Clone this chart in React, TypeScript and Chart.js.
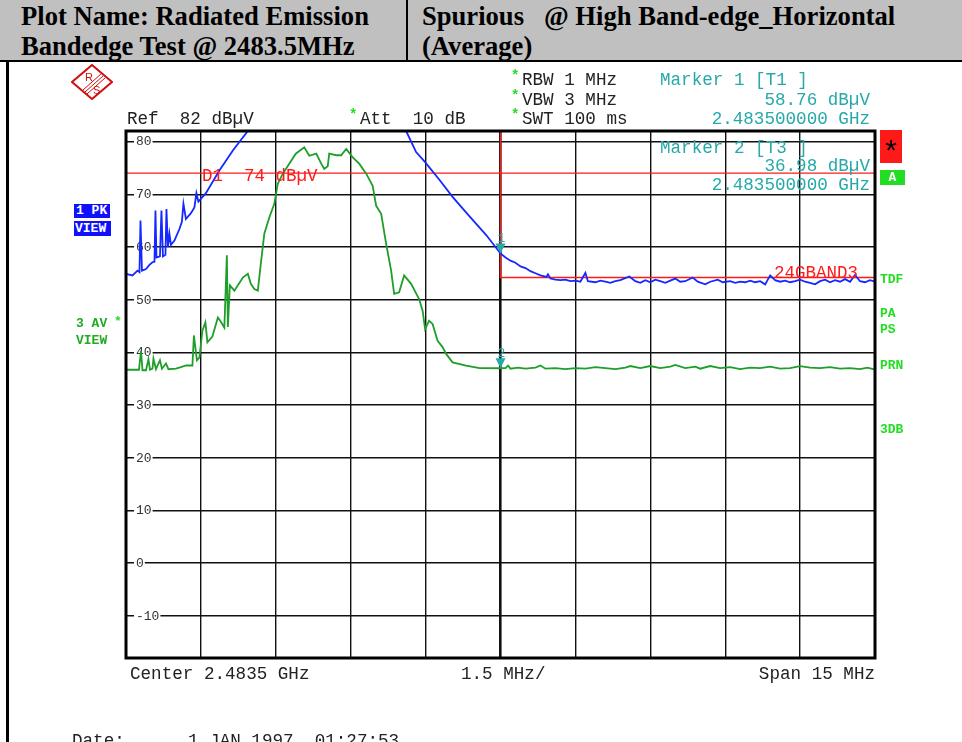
import React, { useEffect, useRef } from "react";
import { Chart, registerables } from "chart.js";

Chart.register(...registerables);

// ---- axis set-up (frequency offset in MHz from the start of the span) ----
const centerFreqGHz = 2.4835;
const spanMHz = 15;
const xGridMHz = [0, 1.5, 3, 4.5, 6, 7.5, 9, 10.5, 12, 13.5, 15];
const yGridDb = [-10, 0, 10, 20, 30, 40, 50, 60, 70, 80];
const refLevelDb = 82;
const bottomLevelDb = -18;

// ---- trace 1 : PK / VIEW (blue) [MHz offset, dBuV] ----
const pkTrace: [number, number][] = [
  [0.0, 54.9], [0.13, 54.6], [0.23, 55.5], [0.27, 55.2], [0.29, 65.0], [0.32, 55.5],
  [0.4, 55.8], [0.47, 56.6], [0.53, 57.1], [0.57, 57.2], [0.59, 66.9], [0.61, 58.0],
  [0.68, 58.2], [0.71, 66.9], [0.74, 58.2], [0.79, 58.5], [0.81, 67.2], [0.84, 60.0],
  [0.87, 62.5], [0.9, 60.4], [0.97, 61.2], [1.07, 63.4], [1.12, 64.8], [1.15, 68.2],
  [1.2, 65.3], [1.3, 66.4], [1.37, 67.5], [1.41, 70.2], [1.45, 68.6], [1.6, 70.2],
  [1.87, 74.5], [2.14, 78.3], [2.44, 82], [5.61, 82], [5.81, 78.0], [5.99, 76.1],
  [6.28, 72.7], [6.54, 69.5], [6.88, 65.8], [7.21, 62.3], [7.5, 58.76], [7.6, 58.0],
  [7.7, 57.4], [7.8, 57.0], [7.9, 56.3], [8.0, 56.0], [8.1, 55.4], [8.2, 55.0],
  [8.3, 54.6], [8.42, 54.3], [8.45, 54.8], [8.5, 54.0], [8.6, 53.8], [8.7, 53.7],
  [8.8, 53.8], [8.9, 53.5], [9.0, 53.6], [9.1, 53.4], [9.2, 55.1], [9.25, 53.5],
  [9.4, 53.3], [9.5, 53.6], [9.6, 53.4], [9.7, 53.2], [9.8, 53.5], [9.9, 53.7],
  [10.08, 54.4], [10.2, 53.5], [10.3, 53.2], [10.4, 53.7], [10.5, 53.3], [10.6, 53.8],
  [10.7, 53.5], [10.8, 53.2], [10.9, 53.6], [11.0, 54.0], [11.1, 53.4], [11.2, 53.5],
  [11.35, 54.2], [11.45, 53.4], [11.6, 52.9], [11.7, 53.4], [11.85, 53.8], [11.95, 53.3],
  [12.1, 53.5], [12.2, 53.2], [12.3, 53.4], [12.4, 53.3], [12.5, 53.6], [12.6, 53.3],
  [12.7, 53.5], [12.8, 52.9], [12.9, 54.6], [13.0, 53.7], [13.1, 53.4], [13.2, 53.6],
  [13.3, 53.3], [13.4, 53.5], [13.5, 53.8], [13.6, 53.4], [13.7, 53.2], [13.8, 52.9],
  [13.9, 53.5], [14.0, 53.8], [14.1, 53.3], [14.2, 53.7], [14.3, 53.4], [14.4, 53.9],
  [14.5, 53.4], [14.6, 54.7], [14.7, 53.5], [14.8, 53.3], [14.9, 53.7], [15.0, 53.4],
];

// ---- trace 3 : AV / VIEW (green) [MHz offset, dBuV] ----
const avTrace: [number, number][] = [
  [0.0, 36.7], [0.26, 36.7], [0.3, 40.3], [0.33, 36.6], [0.4, 36.6], [0.45, 38.7],
  [0.48, 36.7], [0.53, 36.9], [0.55, 38.8], [0.6, 36.8], [0.68, 38.5], [0.72, 36.9],
  [0.8, 37.9], [0.85, 36.8], [1.0, 36.9], [1.1, 37.2], [1.2, 37.5], [1.33, 37.5],
  [1.36, 43.2], [1.42, 38.5], [1.47, 39.0], [1.53, 44.1], [1.59, 45.7], [1.63, 41.9],
  [1.73, 43.0], [1.84, 46.6], [1.9, 45.8], [1.97, 44.7], [2.02, 58.4], [2.04, 44.8],
  [2.08, 52.7], [2.17, 51.7], [2.34, 54.2], [2.44, 54.9], [2.5, 53.0], [2.57, 52.0],
  [2.64, 51.7], [2.7, 56.8], [2.77, 62.5], [2.87, 65.6], [2.97, 68.2], [3.04, 72.0],
  [3.14, 73.9], [3.27, 75.8], [3.4, 77.7], [3.57, 78.9], [3.67, 77.3], [3.81, 77.7],
  [3.91, 75.8], [3.97, 74.8], [4.04, 75.3], [4.07, 77.7], [4.21, 77.4], [4.31, 77.4],
  [4.41, 78.6], [4.54, 77.0], [4.67, 75.8], [4.81, 73.9], [4.94, 71.6], [5.01, 67.8],
  [5.11, 66.3], [5.21, 60.6], [5.31, 55.5], [5.37, 51.1], [5.47, 51.4], [5.57, 54.6],
  [5.71, 53.0], [5.87, 50.1], [5.94, 47.9], [5.99, 44.4], [6.07, 46.0], [6.14, 45.4],
  [6.24, 42.2], [6.34, 41.0], [6.41, 39.7], [6.54, 38.1], [6.81, 37.5], [7.08, 37.0],
  [7.5, 36.98], [7.6, 37.0], [7.65, 37.5], [7.7, 36.9], [7.85, 37.1], [8.0, 36.9],
  [8.2, 37.1], [8.3, 37.5], [8.4, 36.9], [8.6, 37.0], [8.8, 36.8], [9.0, 37.0],
  [9.2, 36.9], [9.4, 37.2], [9.6, 37.0], [9.8, 36.8], [10.0, 37.1], [10.1, 37.4],
  [10.3, 37.0], [10.5, 37.4], [10.7, 37.0], [10.9, 37.3], [11.0, 37.6], [11.2, 37.0],
  [11.4, 37.3], [11.5, 36.9], [11.7, 37.4], [11.9, 37.0], [12.1, 37.2], [12.3, 36.8],
  [12.5, 37.1], [12.7, 37.0], [12.9, 37.3], [13.1, 36.9], [13.3, 37.0], [13.5, 37.4],
  [13.7, 37.1], [13.9, 37.0], [14.1, 37.2], [14.3, 36.9], [14.5, 37.0], [14.7, 36.8],
  [14.85, 37.1], [15.0, 36.7],
];

// ---- limit / display lines ----
const d1LimitDb = 74;
const bandEdgeMHz = 7.5;
const bandLimitDb = 54.2;

// ---- markers ----
const markerNames = ["1", "2"];
const markerFreqMHz = [7.5, 7.5];
const markerLevelDb = [58.76, 36.98];

const MONO = '"Liberation Mono", "Courier New", monospace';
const SERIF = '"Liberation Serif", "Times New Roman", serif';
const TEAL = "#27a9a9";
const RED = "#ff1a1a";
const BLUE = "#1428ff";
const GREEN = "#1f9e2a";
const LGREEN = "#22dd22";

const overlayPlugin = {
  id: "overlay",
  beforeDatasetsDraw(chart: any) {
    const { ctx, chartArea: a, scales } = chart;
    const y = scales.y;
    ctx.save();
    ctx.font = `13px ${MONO}`;
    ctx.textBaseline = "middle";
    for (const v of yGridDb) {
      const py = y.getPixelForValue(v);
      const s = String(v);
      const w = ctx.measureText(s).width;
      ctx.fillStyle = "#fff";
      ctx.fillRect(a.left + 8, py - 6, w + 3, 12);
      ctx.fillStyle = "#333";
      ctx.fillText(s, a.left + 10, py + 0.5);
    }
    ctx.restore();
  },
  afterDatasetsDraw(chart: any) {
    const { ctx, chartArea: a, scales } = chart;
    const x = scales.x;
    const y = scales.y;
    ctx.save();
    // frame
    ctx.strokeStyle = "#000";
    ctx.lineWidth = 3;
    ctx.strokeRect(a.left, a.top, a.right - a.left, a.bottom - a.top);
    // limit labels
    ctx.font = `17.5px ${MONO}`;
    ctx.fillStyle = RED;
    ctx.textBaseline = "middle";
    ctx.textAlign = "left";
    ctx.fillText("D1  74 dB\u00b5V", x.getPixelForValue(xGridMHz[1]) + 1, y.getPixelForValue(d1LimitDb) + 3);
    ctx.textBaseline = "alphabetic";
    ctx.textAlign = "right";
    ctx.fillText("24GBAND3", x.getPixelForValue(xGridMHz[xGridMHz.length - 1]) - 17, y.getPixelForValue(bandLimitDb));
    // markers
    ctx.fillStyle = TEAL;
    ctx.textAlign = "center";
    ctx.font = `13px ${MONO}`;
    for (let i = 0; i < markerNames.length; i++) {
      const px = x.getPixelForValue(markerFreqMHz[i]);
      const py = y.getPixelForValue(markerLevelDb[i]);
      ctx.beginPath();
      ctx.moveTo(px - 5, py - 10);
      ctx.lineTo(px + 5, py - 10);
      ctx.lineTo(px, py);
      ctx.closePath();
      ctx.fill();
      ctx.fillText(markerNames[i], px + 1, py - 11);
    }
    ctx.restore();
  },
};

type TP = {
  x: number;
  y: number;
  t: string;
  c?: string;
  s?: number;
  right?: boolean;
  bold?: boolean;
  f?: string;
};
const T = ({ x, y, t, c = "#222", s = 17.6, right, bold, f = MONO }: TP) => (
  <div
    style={{
      position: "absolute",
      top: Math.round(y - s / 2 + 1),
      ...(right ? { right: 962 - x, textAlign: "right" as const } : { left: x }),
      fontFamily: f,
      fontSize: s,
      lineHeight: `${Math.round(s)}px`,
      color: c,
      whiteSpace: "pre",
      fontWeight: bold ? 700 : 400,
    }}
  >
    {t}
  </div>
);

export default function App() {
  const ref = useRef<HTMLCanvasElement | null>(null);
  useEffect(() => {
    if (!ref.current) return;
    const chart = new Chart(ref.current, {
      type: "line",
      data: {
        datasets: [
          {
            label: "3 AV VIEW",
            data: avTrace.map(([f, v]) => ({ x: f, y: v })),
            borderColor: GREEN,
            borderWidth: 1.8,
            pointRadius: 0,
            tension: 0,
          },
          {
            label: "1 PK VIEW",
            data: pkTrace.map(([f, v]) => ({ x: f, y: v })),
            borderColor: BLUE,
            borderWidth: 1.8,
            pointRadius: 0,
            tension: 0,
          },
          {
            label: "D1",
            data: [
              { x: xGridMHz[0], y: d1LimitDb },
              { x: xGridMHz[xGridMHz.length - 1], y: d1LimitDb },
            ],
            borderColor: RED,
            borderWidth: 1.3,
            pointRadius: 0,
          },
          {
            label: "24GBAND3",
            data: [
              { x: bandEdgeMHz, y: refLevelDb },
              { x: bandEdgeMHz, y: bandLimitDb },
              { x: xGridMHz[xGridMHz.length - 1], y: bandLimitDb },
            ],
            borderColor: RED,
            borderWidth: 1.5,
            pointRadius: 0,
          },
        ],
      },
      options: {
        responsive: false,
        maintainAspectRatio: false,
        animation: false,
        devicePixelRatio: 1,
        layout: { padding: { left: 126, right: 87, top: 131, bottom: 84 } },
        plugins: { legend: { display: false }, tooltip: { enabled: false } },
        scales: {
          x: {
            type: "linear",
            min: 0,
            max: spanMHz,
            afterBuildTicks: (axis: any) => {
              axis.ticks = xGridMHz.map((v) => ({ value: v }));
            },
            ticks: { display: false },
            border: { display: false },
            grid: {
              color: "#111",
              lineWidth: (c: any) => (c.tick && c.tick.value === bandEdgeMHz ? 2.6 : 1.4),
              drawTicks: false,
            },
          },
          y: {
            type: "linear",
            min: bottomLevelDb,
            max: refLevelDb,
            afterBuildTicks: (axis: any) => {
              axis.ticks = yGridDb.map((v) => ({ value: v }));
            },
            ticks: { display: false },
            border: { display: false },
            grid: { color: "#111", lineWidth: 1.4, drawTicks: false },
          },
        },
      },
      plugins: [overlayPlugin],
    });
    return () => chart.destroy();
  }, []);

  const headStyle = {
    position: "absolute" as const,
    top: 2,
    fontFamily: SERIF,
    fontWeight: 700,
    fontSize: 26.6,
    lineHeight: "29.5px",
    whiteSpace: "pre" as const,
    color: "#000",
  };

  return (
    <div
      style={{
        position: "fixed",
        left: 0,
        top: 0,
        width: 962,
        height: 742,
        overflow: "hidden",
        background: "#fff",
      }}
    >
      <canvas
        ref={ref}
        width={962}
        height={742}
        style={{ position: "absolute", left: 0, top: 0, width: 962, height: 742 }}
      />
      {/* header table */}
      <div style={{ position: "absolute", left: 0, top: 0, width: 962, height: 60, background: "#c0c0c0" }} />
      <div style={{ position: "absolute", left: 0, top: 60, width: 962, height: 2, background: "#000" }} />
      <div style={{ position: "absolute", left: 406, top: 0, width: 2, height: 60, background: "#000" }} />
      <div style={{ position: "absolute", left: 6, top: 60, width: 3, height: 682, background: "#000" }} />
      <div style={{ ...headStyle, left: 21 }}>{"Plot Name: Radiated Emission\nBandedge Test @ 2483.5MHz"}</div>
      <div style={{ ...headStyle, left: 422 }}>{"Spurious   @ High Band-edge_Horizontal\n(Average)"}</div>

      {/* R&S logo */}
      <svg style={{ position: "absolute", left: 71, top: 64 }} width={42} height={36} viewBox="0 0 42 36">
        <polygon points="21,1 41,18 21,35 1,18" fill="#fff" stroke="#d01010" strokeWidth={2} />
        <line x1="12" y1="26" x2="30" y2="10" stroke="#d01010" strokeWidth={1} />
        <line x1="14" y1="28" x2="32" y2="12" stroke="#d01010" strokeWidth={1} />
        <line x1="16" y1="30" x2="34" y2="14" stroke="#d01010" strokeWidth={1} />
        <text x="14" y="17" fontSize="11" fill="#d01010" fontFamily="Liberation Sans">R</text>
        <text x="22" y="30" fontSize="11" fill="#d01010" fontFamily="Liberation Sans">S</text>
      </svg>

      {/* instrument settings */}
      <T x={127} y={118} t={"Ref  82 dB\u00b5V"} />
      <T x={349} y={114} t="*" c={LGREEN} s={14} bold />
      <T x={360} y={118} t={"Att  10 dB"} />
      <T x={511} y={75} t="*" c={LGREEN} s={14} bold />
      <T x={522} y={79} t="RBW 1 MHz" />
      <T x={511} y={95} t="*" c={LGREEN} s={14} bold />
      <T x={522} y={99} t="VBW 3 MHz" />
      <T x={511} y={114} t="*" c={LGREEN} s={14} bold />
      <T x={522} y={118} t="SWT 100 ms" />

      <T x={660} y={79} t="Marker 1 [T1 ]" c={TEAL} />
      <T x={870} y={99} t={"58.76 dB\u00b5V"} c={TEAL} right />
      <T x={870} y={118} t="2.483500000 GHz" c={TEAL} right />
      <T x={660} y={147} t="Marker 2 [T3 ]" c={TEAL} />
      <T x={870} y={165} t={"36.98 dB\u00b5V"} c={TEAL} right />
      <T x={870} y={184} t="2.483500000 GHz" c={TEAL} right />

      {/* trace labels left */}
      <div style={{ position: "absolute", left: 74, top: 204, width: 36, height: 14, background: "#1010ff", overflow: "hidden" }}>
        <div style={{ fontFamily: MONO, fontWeight: 700, fontSize: 13, lineHeight: "14px", color: "#fff", whiteSpace: "pre", paddingLeft: 2 }}>1 PK</div>
      </div>
      <div style={{ position: "absolute", left: 74, top: 221, width: 37, height: 15, background: "#1010ff", overflow: "hidden" }}>
        <div style={{ fontFamily: MONO, fontWeight: 700, fontSize: 13, lineHeight: "15px", color: "#fff", whiteSpace: "pre", paddingLeft: 1 }}>VIEW</div>
      </div>
      <T x={76} y={322} t="3 AV" c="#22aa22" s={13} bold />
      <T x={114} y={320} t="*" c={LGREEN} s={13} bold />
      <T x={76} y={339} t="VIEW" c="#22aa22" s={13} bold />

      {/* right status labels */}
      <div style={{ position: "absolute", left: 880, top: 130, width: 22, height: 33, background: RED }}>
        <div style={{ fontFamily: "Liberation Sans", fontSize: 30, lineHeight: "40px", textAlign: "center", color: "#000" }}>*</div>
      </div>
      <div style={{ position: "absolute", left: 880, top: 170, width: 25, height: 15, background: LGREEN }}>
        <div style={{ fontFamily: MONO, fontWeight: 700, fontSize: 13, lineHeight: "15px", textAlign: "center", color: "#fff" }}>A</div>
      </div>
      <T x={880} y={278} t="TDF" c={LGREEN} s={13} bold />
      <T x={880} y={312} t="PA" c={LGREEN} s={13} bold />
      <T x={880} y={328} t="PS" c={LGREEN} s={13} bold />
      <T x={880} y={364} t="PRN" c={LGREEN} s={13} bold />
      <T x={880} y={428} t="3DB" c={LGREEN} s={13} bold />

      {/* bottom */}
      <T x={130} y={673} t={`Center ${centerFreqGHz} GHz`} />
      <T x={461} y={673} t={`${xGridMHz[1]} MHz/`} />
      <T x={875} y={673} t={`Span ${spanMHz} MHz`} right />
      <T x={72} y={740} t="Date:" />
      <T x={188} y={740} t={"1.JAN.1997  01:27:53"} />
    </div>
  );
}
